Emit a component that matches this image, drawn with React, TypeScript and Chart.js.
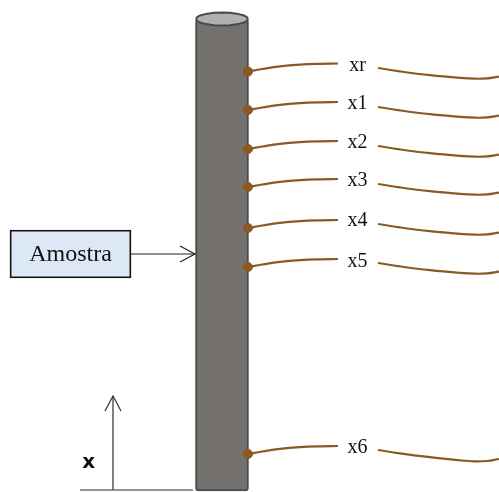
import React, { useEffect, useRef } from "react";
import { Chart, registerables } from "chart.js";

Chart.register(...registerables);

const WIDTH = 499;
const HEIGHT = 492;

const labels = ["xr", "x1", "x2", "x3", "x4", "x5", "x6"];
const labelX = [357.5, 357.5, 357.5, 357.5, 357.5, 357.5, 357.5];
const labelY = [66, 104, 143, 181, 221, 262, 448];
const dotX = [248, 248, 248, 248, 248, 248, 248];
const dotY = [71.5, 110, 149, 187, 228, 267, 454];

const wireLeftX = [248, 262, 280, 300, 320, 338];
const wireLeftY = [
  [71.5, 69, 66.3, 64.6, 63.8, 63.5],
  [110, 107.5, 104.8, 103.1, 102.3, 102],
  [149, 146.5, 143.8, 142.1, 141.3, 141],
  [187, 184.5, 181.8, 180.1, 179.3, 179],
  [228, 225.5, 222.8, 221.1, 220.3, 220],
  [267, 264.5, 261.8, 260.1, 259.3, 259],
  [454, 451.5, 448.8, 447.1, 446.3, 446],
];

const wireRightX = [378, 400, 430, 460, 475, 487, 499];
const wireRightY = [
  [68, 71.4, 75.2, 77.9, 78.7, 78.4, 76.7],
  [107, 110.4, 114.2, 116.9, 117.7, 117.4, 115.7],
  [146, 149.4, 153.2, 155.9, 156.7, 156.4, 154.7],
  [184, 187.4, 191.2, 193.9, 194.7, 194.4, 192.7],
  [224, 227.4, 231.2, 233.9, 234.7, 234.4, 232.7],
  [263, 266.4, 270.2, 272.9, 273.7, 273.4, 271.7],
  [450, 453.4, 457.2, 460.4, 461.4, 461, 459],
];

const rodCenter = 222;
const rodSpan: [number, number] = [19, 491];
const capX = [196, 197, 200, 206, 214, 222, 230, 238, 244, 247, 248];
const capTop = [19, 17.2, 15.5, 13.9, 12.8, 12.5, 12.8, 13.9, 15.5, 17.2, 19];
const capBottom = [19, 20.8, 22.5, 24.1, 25.2, 25.5, 25.2, 24.1, 22.5, 20.8, 19];

const boxCenter = 70.5;
const boxSpan: [number, number] = [230, 278];
const boxLabel = "Amostra";

const sampleArrowX = [131, 195];
const sampleArrowY = [254, 254];
const sampleHeadX = [180, 195, 180];
const sampleHeadY = [246, 254, 262];
const upArrowX = [113, 113];
const upArrowY = [490, 396];
const upHeadX = [105, 113, 121];
const upHeadY = [411, 396, 411];
const baseX = [80, 193];
const baseY = [490, 490];
const axisLabel = "x";

const pts = (xs: number[], ys: number[]) => xs.map((x, i) => ({ x, y: ys[i] }));

const brown = "#8b5a24";
const darkLine = "#2e2e2e";

const line = (xs: number[], ys: number[], color: string, width: number, tension = 0, order = 5) => ({
  type: "line" as const,
  data: pts(xs, ys),
  borderColor: color,
  borderWidth: width,
  pointRadius: 0,
  tension,
  fill: false,
  order,
});

const textPlugin = {
  id: "diagramText",
  afterDraw(chart: any) {
    const { ctx, scales } = chart;
    ctx.save();
    ctx.textAlign = "center";
    ctx.textBaseline = "middle";
    ctx.fillStyle = "#111";
    ctx.font = '20px "Liberation Serif"';
    labels.forEach((t, i) => {
      ctx.fillText(t, scales.x.getPixelForValue(labelX[i]), scales.y.getPixelForValue(labelY[i]));
    });
    ctx.font = '24px "Liberation Serif"';
    ctx.fillText(boxLabel, scales.x.getPixelForValue(boxCenter), scales.y.getPixelForValue(255));
    ctx.font = 'bold 20px "DejaVu Sans"';
    ctx.fillText(axisLabel, scales.x.getPixelForValue(88.8), scales.y.getPixelForValue(463));
    ctx.restore();
  },
};

export default function App() {
  const ref = useRef<HTMLCanvasElement>(null);
  useEffect(() => {
    const datasets: any[] = [
      {
        type: "bar",
        data: [{ x: rodCenter, y: rodSpan }],
        backgroundColor: "#73706e",
        borderColor: "#4a4a4a",
        borderWidth: 2,
        borderRadius: 3,
        borderSkipped: false,
        barThickness: 53,
        grouped: false,
        order: 10,
      },
      {
        type: "bar",
        data: [{ x: boxCenter, y: boxSpan }],
        backgroundColor: "#dce8f5",
        borderColor: "#111111",
        borderWidth: 1.8,
        borderSkipped: false,
        barThickness: 121,
        grouped: false,
        order: 9,
      },
      {
        ...line(capX, capTop, "#4a4a4a", 2, 0, 8),
        backgroundColor: "#b0b0b0",
        fill: "+1",
      },
      line(capX, capBottom, "#4a4a4a", 2, 0, 7),
      ...wireLeftY.map((ys) => line(wireLeftX, ys, brown, 2.2, 0.4, 3)),
      ...wireRightY.map((ys) => line(wireRightX, ys, brown, 2.2, 0.4, 3)),
      line(sampleArrowX, sampleArrowY, "#222222", 1.2),
      line(sampleHeadX, sampleHeadY, "#222222", 1.2),
      line(upArrowX, upArrowY, darkLine, 1.2),
      line(upHeadX, upHeadY, darkLine, 1.2),
      line(baseX, baseY, darkLine, 1.2),
      {
        type: "scatter",
        data: pts(dotX, dotY),
        backgroundColor: brown,
        borderColor: brown,
        pointRadius: 4.5,
        order: 1,
      },
    ];
    const chart = new Chart(ref.current as HTMLCanvasElement, {
      type: "bar",
      data: { datasets },
      options: {
        responsive: false,
        animation: false,
        layout: { padding: 0, autoPadding: false },
        plugins: { legend: { display: false }, tooltip: { enabled: false } },
        scales: {
          x: { type: "linear", min: 0, max: WIDTH, offset: false, display: false },
          y: { type: "linear", min: 0, max: HEIGHT, reverse: true, display: false, stacked: false },
        },
      },
      plugins: [textPlugin],
    } as any);
    return () => chart.destroy();
  }, []);
  return (
    <canvas
      ref={ref}
      width={WIDTH}
      height={HEIGHT}
      style={{ position: "absolute", left: 0, top: 0, width: WIDTH, height: HEIGHT }}
    />
  );
}
